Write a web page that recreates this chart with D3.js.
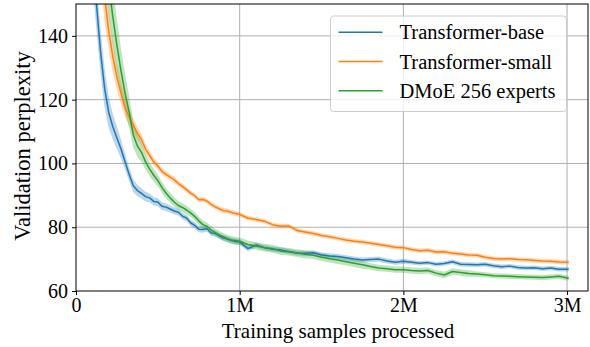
<!DOCTYPE html>
<html>
<head>
<meta charset="utf-8">
<script src="https://cdn.jsdelivr.net/npm/d3@7"></script>
</head>
<body style="margin:0">
<svg id="chart" width="590" height="347"></svg>
<script>
// training samples processed, in millions
const samples = [0.10,0.125,0.15,0.175,0.20,0.225,0.25,0.275,0.30,0.325,0.35,0.375,0.40,0.425,0.45,0.475,0.50,0.525,0.55,0.575,0.60,0.625,0.65,0.675,0.70,0.725,0.75,0.775,0.80,0.825,0.85,0.875,0.90,0.925,0.95,0.975,1.00,
  1.05,1.10,1.15,1.20,1.25,1.30,1.35,1.40,1.45,1.50,1.55,1.60,1.65,1.70,1.75,1.80,1.85,1.90,1.95,2.00,2.05,2.10,2.15,2.20,2.25,2.30,2.35,2.40,2.45,2.50,2.55,2.60,2.65,2.70,2.75,2.80,2.85,2.90,2.95,3.01];

const baseVals = [165,150,135,123.5,116,111.5,108,104.5,100.5,96.5,93,91.5,90.6,89.6,89.2,88.1,87.9,86.6,86.3,85.7,85.1,84.7,83.5,82.9,81.4,80.6,79.4,79.3,79.5,78.2,78.1,77.3,76.6,76.3,75.8,75.5,75.4,
  73.3,74.4,73.6,73.1,72.9,72.4,71.9,71.8,72.0,71.3,71.0,70.8,70.4,70.0,69.7,69.9,70.0,69.4,69.0,69.3,69.0,68.7,68.9,68.4,68.6,69.2,68.4,68.3,68.2,68.4,67.9,67.6,67.8,67.4,67.2,67.3,67.0,67.2,66.8,66.8];
const baseSpread = [9,8,7,6,5,4,3.5,3,2.5,2.2,2,1.8,1.6,1.5,1.4,1.3,1.3,1.2,1.2,1.1,1.1,1.0,1.0,1.0,1.0,1.0,1.0,1.0,0.9,0.9,0.9,0.9,0.9,0.9,0.9,0.9,0.9,
  0.8,0.8,0.8,0.8,0.8,0.8,0.8,0.8,0.8,0.8,0.8,0.8,0.8,0.8,0.8,0.8,0.8,0.8,0.8,0.8,0.7,0.7,0.7,0.7,0.7,0.7,0.7,0.7,0.7,0.7,0.7,0.7,0.7,0.7,0.7,0.7,0.7,0.7,0.7,0.7];

const smallVals = [null,null,168,152,141.5,133.5,127,122,117.5,114.5,112,109.5,107.5,104.5,102.5,100.5,99.2,97.5,96.6,95.7,94.9,93.7,92.8,91.8,90.7,89.9,88.6,88.7,88.2,87.2,86.4,85.8,85.2,85.1,84.6,84.3,84.0,
  82.9,82.4,81.9,80.8,80.3,80.4,79.0,78.5,78.0,77.4,77.0,76.5,76.0,75.6,75.4,75.0,74.6,74.2,73.7,73.6,73.0,72.6,72.8,72.2,72.3,71.8,71.6,71.3,71.2,70.6,70.2,70.0,70.1,69.9,69.8,69.6,69.4,69.3,69.1,69.0];
const smallSpread = [null,null,10,8,6,5,4,3.5,3,2.5,2.2,2,1.8,1.6,1.4,1.3,1.2,1.1,1.0,1.0,1.0,0.9,0.9,0.9,0.8,0.8,0.8,0.8,0.8,0.8,0.8,0.8,0.8,0.8,0.8,0.8,0.8,
  0.7,0.7,0.7,0.7,0.7,0.7,0.7,0.7,0.7,0.7,0.7,0.7,0.7,0.7,0.7,0.7,0.7,0.7,0.7,0.7,0.7,0.7,0.7,0.7,0.7,0.7,0.7,0.7,0.7,0.7,0.7,0.7,0.7,0.7,0.7,0.7,0.7,0.7,0.7,0.7];

const dmoeVals = [null,null,null,170,156,146,137,129,122,116,109,105.5,103.5,100.5,98.2,96.3,94.6,92.5,90.7,89.2,87.9,86.8,86.2,85.4,84.5,83.4,82.0,80.8,80.3,79.2,78.3,77.6,77.0,76.4,76.0,75.8,75.6,
  74.6,74.1,73.6,73.3,72.5,72.3,71.9,71.5,71.2,70.6,70.1,69.7,69.2,68.7,68.2,67.7,67.2,67.0,66.7,66.7,66.4,66.3,66.4,65.6,65.0,66.1,65.8,65.5,65.3,65.1,64.8,64.7,64.6,64.5,64.4,64.3,64.2,64.4,64.6,64.0];
const dmoeSpread = [null,null,null,12,10,9,8,7,6,5,4,3.5,3,2.5,2.2,2,1.8,1.7,1.6,1.5,1.5,1.4,1.4,1.3,1.3,1.3,1.3,1.3,1.2,1.2,1.2,1.2,1.2,1.2,1.2,1.2,1.2,
  1.2,1.2,1.2,1.2,1.2,1.2,1.2,1.2,1.2,1.2,1.2,1.2,1.2,1.2,1.2,1.0,1.0,1.0,1.0,1.0,1.0,1.0,1.0,1.0,1.0,1.0,1.0,1.0,0.8,0.8,0.8,0.8,0.8,0.8,0.8,0.8,0.8,0.8,0.8,0.8];

const seriesNames = ["Transformer-base", "Transformer-small", "DMoE 256 experts"];
const seriesColors = ["#1f77b4", "#ff7f0e", "#2ca02c"];
const xTicks = [0, 1, 2, 3];
const xTickLabels = ["0", "1M", "2M", "3M"];
const yTicks = [60, 80, 100, 120, 140];

const serif = "Liberation Serif";
const margin = { top: 4, right: 2, bottom: 56, left: 76 };
const width = 590, height = 347;

let svg = d3.select("#chart");

let xScale = d3.scaleLinear().domain([0, 3.128]).range([margin.left, width - margin.right]);
let yScale = d3.scaleLinear().domain([60, 150]).range([height - margin.bottom, margin.top]);

let spreads = [baseSpread, smallSpread, dmoeSpread];
let series = [baseVals, smallVals, dmoeVals].map((vals, k) => ({
    name: seriesNames[k],
    color: seriesColors[k],
    points: samples.map((s, i) => ({ x: s, y: vals[i], spread: spreads[k][i] }))
}));

svg.append("defs").append("clipPath").attr("id", "plotclip")
    .append("rect")
    .attr("x", margin.left).attr("y", margin.top)
    .attr("width", xScale.range()[1] - margin.left)
    .attr("height", yScale.range()[0] - margin.top);

// grid
let grid = svg.append("g").attr("class", "grid");
grid.selectAll("line.gx")
    .data(xTicks.slice(1)).enter()
    .append("line")
    .attr("x1", d => xScale(d)).attr("x2", d => xScale(d))
    .attr("y1", yScale.range()[1]).attr("y2", yScale.range()[0])
    .attr("stroke", "#b0b0b0").attr("stroke-width", 1);
grid.selectAll("line.gy")
    .data(yTicks.slice(1)).enter()
    .append("line")
    .attr("x1", xScale.range()[0]).attr("x2", xScale.range()[1])
    .attr("y1", d => yScale(d)).attr("y2", d => yScale(d))
    .attr("stroke", "#b0b0b0").attr("stroke-width", 1);

// bands and lines
let body = svg.append("g").attr("clip-path", "url(#plotclip)");

let area = d3.area()
    .defined(d => d.y !== null)
    .x(d => xScale(d.x))
    .y0(d => yScale(d.y - d.spread))
    .y1(d => yScale(d.y + d.spread));

let line = d3.line()
    .defined(d => d.y !== null)
    .x(d => xScale(d.x))
    .y(d => yScale(d.y));

body.selectAll("path.band")
    .data(series).enter()
    .append("path")
    .attr("class", "band")
    .attr("d", d => area(d.points))
    .attr("fill", d => d.color)
    .attr("fill-opacity", 0.3);

body.selectAll("path.curve")
    .data(series).enter()
    .append("path")
    .attr("class", "curve")
    .attr("d", d => line(d.points))
    .attr("fill", "none")
    .attr("stroke", d => d.color)
    .attr("stroke-width", 1.5)
    .attr("stroke-linejoin", "round");

// axes
let xAxis = d3.axisBottom(xScale)
    .tickValues(xTicks)
    .tickFormat((d, i) => xTickLabels[i])
    .tickSize(4).tickPadding(3);
let gx = svg.append("g")
    .attr("transform", `translate(0,${yScale.range()[0]})`)
    .call(xAxis);
gx.select(".domain").remove();
gx.selectAll("text")
    .style("font-size", "20px")
    .style("font-family", serif);

let yAxis = d3.axisLeft(yScale)
    .tickValues(yTicks)
    .tickSize(4).tickPadding(4);
let gy = svg.append("g")
    .attr("transform", `translate(${margin.left},0)`)
    .call(yAxis);
gy.select(".domain").remove();
gy.selectAll("text")
    .style("font-size", "20px")
    .style("font-family", serif);

svg.selectAll(".tick line").attr("stroke", "#000").attr("stroke-width", 1);

// frame
svg.append("rect")
    .attr("x", margin.left).attr("y", margin.top)
    .attr("width", xScale.range()[1] - margin.left)
    .attr("height", yScale.range()[0] - margin.top)
    .attr("fill", "none").attr("stroke", "#000").attr("stroke-width", 1);

// axis labels
svg.append("text")
    .attr("x", 338)
    .attr("y", 338)
    .attr("text-anchor", "middle")
    .style("font-size", "21px")
    .style("font-family", serif)
    .text("Training samples processed");

svg.append("text")
    .attr("transform", "translate(30,146) rotate(-90)")
    .attr("text-anchor", "middle")
    .style("font-size", "22.5px")
    .style("font-family", serif)
    .text("Validation perplexity");

// legend
let legend = svg.append("g").attr("transform", "translate(330.5,16)");
legend.append("rect")
    .attr("width", 236).attr("height", 95.5)
    .attr("rx", 3)
    .attr("fill", "#fff").attr("fill-opacity", 0.8)
    .attr("stroke", "#cccccc").attr("stroke-width", 1);

let items = legend.selectAll("g.item")
    .data(series).enter()
    .append("g")
    .attr("class", "item")
    .attr("transform", (d, i) => `translate(0,${16.3 + i * 29.2})`);
items.append("line")
    .attr("x1", 8).attr("x2", 52)
    .attr("stroke", d => d.color).attr("stroke-width", 1.5);
items.append("text")
    .attr("x", 69)
    .attr("dy", "0.35em")
    .style("font-size", "20.5px")
    .style("font-family", serif)
    .text(d => d.name);
</script>
</body>
</html>
